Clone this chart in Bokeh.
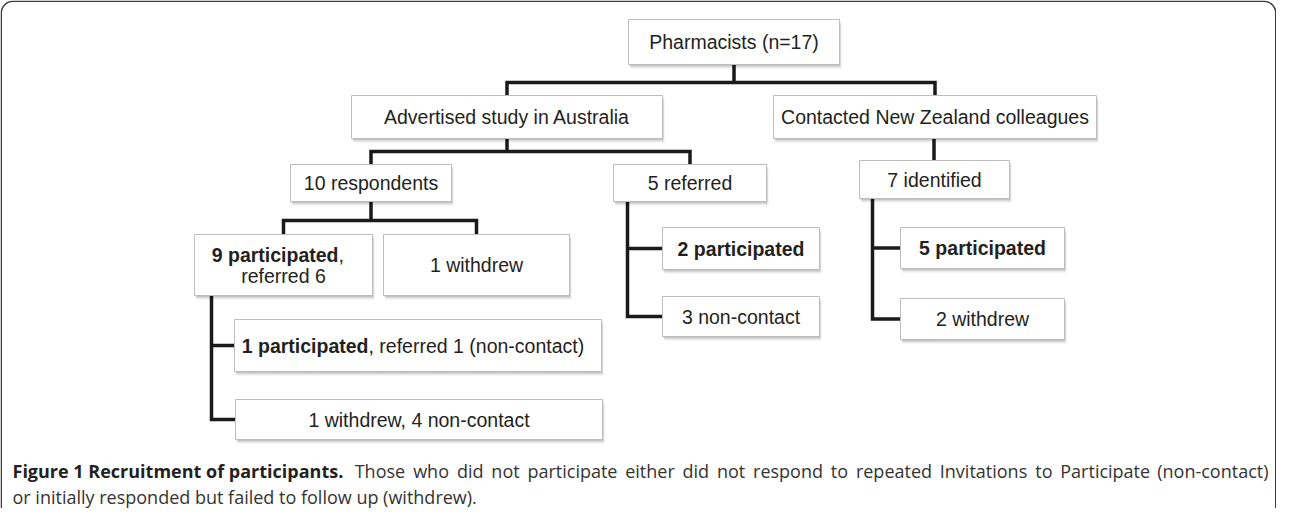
from bokeh.plotting import figure
from bokeh.models import Range1d
from bokeh.core.properties import value
from bokeh.embed import file_html
from bokeh.resources import INLINE

# ---------------- data (texts of the flow chart) ----------------
node_ids = ["pharm", "adv", "nz", "resp10", "ref5", "ident7", "part9", "wd1",
            "part2", "nc3", "part5", "wd2", "part1", "wd1nc4"]
# each node: list of lines, each line: list of (text, bold) segments
node_text = {
    "pharm":  [[("Pharmacists (n=17)", False)]],
    "adv":    [[("Advertised study in Australia", False)]],
    "nz":     [[("Contacted New Zealand colleagues", False)]],
    "resp10": [[("10 respondents", False)]],
    "ref5":   [[("5 referred", False)]],
    "ident7": [[("7 identified", False)]],
    "part9":  [[("9 participated", True), (",", False)], [("referred 6", False)]],
    "wd1":    [[("1 withdrew", False)]],
    "part2":  [[("2 participated", True)]],
    "nc3":    [[("3 non-contact", False)]],
    "part5":  [[("5 participated", True)]],
    "wd2":    [[("2 withdrew", False)]],
    "part1":  [[("1 participated", True), (", referred 1 (non-contact)", False)]],
    "wd1nc4": [[("1 withdrew, 4 non-contact", False)]],
}
tree_edges = [("pharm", ["adv", "nz"]), ("adv", ["resp10", "ref5"]),
              ("nz", ["ident7"]), ("resp10", ["part9", "wd1"])]
side_edges = [("ref5", ["part2", "nc3"]), ("ident7", ["part5", "wd2"]),
              ("part9", ["part1", "wd1nc4"])]
caption_bold = "Figure 1 Recruitment of participants."
caption_line1 = ("Those who did not participate either did not respond to repeated "
                 "Invitations to Participate (non-contact)")
caption_line2 = "or initially responded but failed to follow up (withdrew)."

# ---------------- layout (pixel positions) ----------------
BOX = {  # left, right, top, bottom
    "pharm": (636, 847, 27, 72),
    "adv": (359, 670, 103, 146),
    "nz": (781, 1104, 103, 146),
    "resp10": (298, 459, 172, 209),
    "ref5": (621, 774, 172, 209),
    "ident7": (867, 1017, 168, 206),
    "part9": (202, 380, 242, 303),
    "wd1": (391, 577, 242, 303),
    "part2": (670, 827, 235, 277),
    "nc3": (670, 827, 304, 344),
    "part5": (908, 1072, 235, 276),
    "wd2": (908, 1072, 306, 347),
    "part1": (242, 609, 327, 379),
    "wd1nc4": (243, 610, 407, 447),
}
TREE_MID = {"pharm": 90, "adv": 159, "resp10": 228}
SIDE_DX = {"ref5": 14, "ident7": 13, "part9": 17}
SPLIT_X = {"part9": 346, "part1": 376}
LINE_GAP = 21

FONT = "Liberation Sans"
FSIZE = "19.5px"
TCOL = "#231f20"

p = figure(width=1276, height=508, x_range=Range1d(8, 1284), y_range=Range1d(516, 8),
           output_backend="svg", toolbar_location=None, min_border=0)
p.axis.visible = False
p.grid.visible = False
p.outline_line_color = None
p.background_fill_color = "white"
p.border_fill_color = "white"

# outer rounded frame
try:
    p.quad(left=[8.75], right=[1283.25], top=[8.75], bottom=[531], fill_color=None,
           line_color="#3c3c3c", line_width=1.5, border_radius=12)
except Exception:
    p.quad(left=[8.75], right=[1283.25], top=[8.75], bottom=[531], fill_color=None,
           line_color="#3c3c3c", line_width=1.5)

# connectors
xs, ys = [], []
def cx(n):
    b = BOX[n]
    return (b[0] + b[1]) / 2
def cy(n):
    b = BOX[n]
    return (b[2] + b[3]) / 2

for par, kids in tree_edges:
    pb = BOX[par][3]
    if len(kids) == 1:
        xs.append([cx(par) - 1, cx(par) - 1]); ys.append([pb, BOX[kids[0]][2]])
        continue
    mid = TREE_MID[par]
    xs.append([cx(par), cx(par)]); ys.append([pb, mid])
    k0, k1 = kids[0], kids[-1]
    xs.append([cx(k0), cx(k0), cx(k1), cx(k1)])
    ys.append([BOX[k0][2], mid, mid, BOX[k1][2]])

for par, kids in side_edges:
    vx = BOX[par][0] + SIDE_DX[par]
    pb = BOX[par][3]
    last = kids[-1]
    xs.append([vx, vx, BOX[last][0]]); ys.append([pb, cy(last), cy(last)])
    for k in kids[:-1]:
        xs.append([vx, BOX[k][0]]); ys.append([cy(k), cy(k)])

p.multi_line(xs, ys, line_color="#1a1a1a", line_width=3.5, line_join="miter", line_cap="butt")

# boxes with soft shadow
L = [BOX[n][0] for n in node_ids]
R = [BOX[n][1] for n in node_ids]
T = [BOX[n][2] for n in node_ids]
B = [BOX[n][3] for n in node_ids]
p.quad(left=[v + 2 for v in L], right=[v + 2 for v in R], top=[v + 4 for v in T],
       bottom=[v + 4 for v in B], fill_color="#000000", fill_alpha=0.08, line_color=None)
p.quad(left=[v + 1 for v in L], right=[v + 1 for v in R], top=[v + 2 for v in T],
       bottom=[v + 2 for v in B], fill_color="#000000", fill_alpha=0.16, line_color=None)
p.quad(left=L, right=R, top=T, bottom=B, fill_color="white",
       line_color="#bdbdbd", line_width=1)

# texts
for n in node_ids:
    lines = node_text[n]
    nl = len(lines)
    y0 = cy(n) - (nl - 1) * LINE_GAP / 2
    for i, segs in enumerate(lines):
        y = y0 + i * LINE_GAP
        if len(segs) == 1:
            txt, bold = segs[0]
            p.text(x=[cx(n)], y=[y], text=[txt], text_align="center", text_baseline="middle",
                   text_font=value(FONT), text_font_size=FSIZE, text_color=TCOL,
                   text_font_style="bold" if bold else "normal")
        else:
            sx = SPLIT_X[n]
            (t1, b1), (t2, b2) = segs
            p.text(x=[sx], y=[y], text=[t1], text_align="right", text_baseline="middle",
                   text_font=value(FONT), text_font_size=FSIZE, text_color=TCOL,
                   text_font_style="bold" if b1 else "normal")
            p.text(x=[sx], y=[y], text=[t2], text_align="left", text_baseline="middle",
                   text_font=value(FONT), text_font_size=FSIZE, text_color=TCOL,
                   text_font_style="bold" if b2 else "normal")

# caption ------------------------------------------------------------
CFONT = "Open Sans"
CSIZE = 18.0
CCOL = "#333333"
CAP_X0 = 20
CAP_XR = 1276    # right edge of justified line 1
CAP_Y1, CAP_Y2 = 478, 504

# approximate Open Sans advance widths (units per 2048 em) for justification
OS_W = {" ": 532, ".": 545, "-": 659, "(": 578, ")": 578, "I": 594, "P": 1231, "T": 1145,
        "a": 1139, "b": 1255, "c": 975, "d": 1255, "e": 1149, "f": 694, "g": 1122,
        "h": 1257, "i": 518, "k": 1075, "l": 518, "m": 1905, "n": 1257, "o": 1237,
        "p": 1255, "r": 836, "s": 977, "t": 723, "u": 1257, "v": 1026, "w": 1593,
        "y": 1028}
def wwidth(s):
    return sum(OS_W.get(ch, 1150) for ch in s) / 2048 * CSIZE

BOLD_EM = 18.75   # width of the bold lead-in, in em (Open Sans Bold)
cap_x1 = CAP_X0 + BOLD_EM * CSIZE + 532 / 2048 * CSIZE

p.text(x=[CAP_X0], y=[CAP_Y1], text=[caption_bold], text_align="left", text_baseline="middle",
       text_font=value(CFONT), text_font_size=f"{CSIZE}px",
       text_color="#231f20", text_font_style="bold")

words = caption_line1.split(" ")
widths = [wwidth(w) for w in words]
gap = (CAP_XR - cap_x1 - sum(widths)) / (len(words) - 1)
wx, pos = cap_x1, []
for w in widths:
    pos.append(wx)
    wx += w + gap
p.text(x=pos[:-1], y=[CAP_Y1] * (len(words) - 1), text=words[:-1], text_align="left",
       text_baseline="middle", text_font=value(CFONT), text_font_size=f"{CSIZE}px",
       text_color=CCOL)
p.text(x=[CAP_XR], y=[CAP_Y1], text=[words[-1]], text_align="right",
       text_baseline="middle", text_font=value(CFONT), text_font_size=f"{CSIZE}px",
       text_color=CCOL)
p.text(x=[CAP_X0], y=[CAP_Y2], text=[caption_line2], text_align="left", text_baseline="middle",
       text_font=value(CFONT), text_font_size=f"{CSIZE}px", text_color=CCOL)

open("out.html", "w").write(file_html(p, INLINE))
